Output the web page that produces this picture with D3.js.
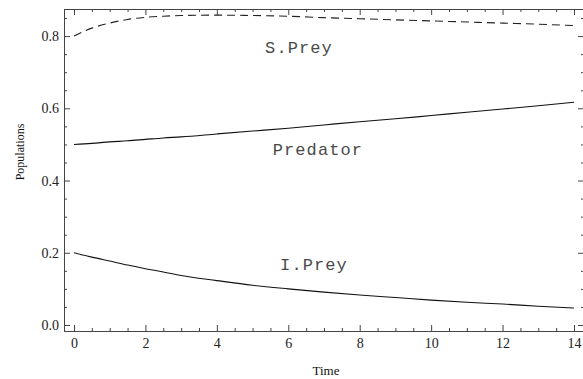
<!DOCTYPE html>
<html>
<head>
<meta charset="utf-8">
<script src="https://cdn.jsdelivr.net/npm/d3@7"></script>
<style>
  html, body { margin: 0; padding: 0; background: #fff; }
  svg { display: block; }
</style>
</head>
<body>
<svg id="chart" width="583" height="379"></svg>
<script>
// Simulation output sampled over time
const time     = [0, 0.5, 1, 1.5, 2, 2.5, 3, 4, 5, 6, 7, 8, 9, 10, 11, 12, 13, 14];
const sPrey    = [0.800, 0.822, 0.836, 0.846, 0.852, 0.855, 0.857, 0.858, 0.857, 0.855, 0.851, 0.848, 0.845, 0.842, 0.839, 0.836, 0.833, 0.829];
const predator = [0.500, 0.503, 0.507, 0.510, 0.514, 0.518, 0.521, 0.529, 0.537, 0.545, 0.554, 0.563, 0.571, 0.580, 0.589, 0.598, 0.607, 0.617];
const iPrey    = [0.200, 0.188, 0.177, 0.166, 0.156, 0.147, 0.137, 0.123, 0.110, 0.100, 0.091, 0.083, 0.076, 0.069, 0.063, 0.058, 0.052, 0.047];

// Tick values
const xMajor = [0, 2, 4, 6, 8, 10, 12, 14];
const yMajor = [0.0, 0.2, 0.4, 0.6, 0.8];

// Curve labels (text, time, population)
const labelText = ["S.Prey", "Predator", "I.Prey"];
const labelTime = [6.30, 6.83, 6.72];
const labelPop  = [0.753, 0.471, 0.152];

const serif = "'Liberation Serif', 'Times New Roman', Times, serif";
const mono = "'Courier New', Courier, 'Nimbus Mono PS', FreeMono, 'Liberation Mono', monospace";

const svg = d3.select("#chart");
const plotLeft = 64, plotRight = 584, plotTop = 9, plotBottom = 331;

const x = d3.scaleLinear().domain([-0.28, 14.28]).range([plotLeft, plotRight]);
const y = d3.scaleLinear().domain([-0.0166, 0.875]).range([plotBottom, plotTop]);

const xMinor = d3.range(0, 14.01, 0.5).filter(v => Math.abs(v / 2 - Math.round(v / 2)) > 1e-6);
const yMinor = d3.range(0, 0.8501, 0.05).filter(v => Math.abs(v / 0.2 - Math.round(v / 0.2)) > 1e-6);

const frameColor = "#444";

function styleAxis(g) {
  g.attr("font-family", serif).attr("font-size", 14);
  g.select(".domain").remove();
  g.selectAll(".tick line").attr("stroke", frameColor).attr("stroke-width", 1);
  g.selectAll(".tick text").attr("fill", "#222");
}

// Minor ticks on all four sides
svg.append("g").attr("transform", `translate(0,${plotBottom})`)
  .call(d3.axisBottom(x).tickValues(xMinor).tickSizeInner(-3).tickSizeOuter(0).tickFormat(""))
  .call(styleAxis);
svg.append("g").attr("transform", `translate(0,${plotTop})`)
  .call(d3.axisTop(x).tickValues(xMinor).tickSizeInner(-3).tickSizeOuter(0).tickFormat(""))
  .call(styleAxis);
svg.append("g").attr("transform", `translate(${plotLeft},0)`)
  .call(d3.axisLeft(y).tickValues(yMinor).tickSizeInner(-3).tickSizeOuter(0).tickFormat(""))
  .call(styleAxis);
svg.append("g").attr("transform", `translate(${plotRight},0)`)
  .call(d3.axisRight(y).tickValues(yMinor).tickSizeInner(-3).tickSizeOuter(0).tickFormat(""))
  .call(styleAxis);

// Major ticks, labelled on bottom and left
svg.append("g").attr("transform", `translate(0,${plotBottom})`)
  .call(d3.axisBottom(x).tickValues(xMajor).tickSizeInner(-6).tickSizeOuter(0).tickPadding(7).tickFormat(d3.format("d")))
  .call(styleAxis);
svg.append("g").attr("transform", `translate(0,${plotTop})`)
  .call(d3.axisTop(x).tickValues(xMajor).tickSizeInner(-6).tickSizeOuter(0).tickFormat(""))
  .call(styleAxis);
svg.append("g").attr("transform", `translate(${plotLeft},0)`)
  .call(d3.axisLeft(y).tickValues(yMajor).tickSizeInner(-6).tickSizeOuter(0).tickPadding(5).tickFormat(d3.format(".1f")))
  .call(styleAxis);
svg.append("g").attr("transform", `translate(${plotRight},0)`)
  .call(d3.axisRight(y).tickValues(yMajor).tickSizeInner(-6).tickSizeOuter(0).tickFormat(""))
  .call(styleAxis);

// Frame
svg.append("rect")
  .attr("x", plotLeft + 0.5).attr("y", plotTop + 0.5)
  .attr("width", plotRight - plotLeft).attr("height", plotBottom - plotTop)
  .attr("fill", "none").attr("stroke", frameColor).attr("stroke-width", 1);

// Population curves
const line = d3.line()
  .x((d, i) => x(time[i]))
  .y(d => y(d))
  .curve(d3.curveMonotoneX);

svg.append("path").datum(sPrey)
  .attr("d", line).attr("fill", "none")
  .attr("stroke", "#222").attr("stroke-width", 1.1)
  .attr("stroke-dasharray", "8,5");

svg.append("path").datum(predator)
  .attr("d", line).attr("fill", "none")
  .attr("stroke", "#111").attr("stroke-width", 1.1);

svg.append("path").datum(iPrey)
  .attr("d", line).attr("fill", "none")
  .attr("stroke", "#111").attr("stroke-width", 1.1);

// Curve labels
svg.selectAll("text.curve-label")
  .data(labelText)
  .join("text")
  .attr("class", "curve-label")
  .attr("x", (d, i) => x(labelTime[i]))
  .attr("y", (d, i) => y(labelPop[i]))
  .attr("text-anchor", "middle")
  .attr("font-family", mono)
  .attr("font-size", 17)
  .attr("letter-spacing", 1.1)
  .attr("fill", "#4a4a4a")
  .text(d => d);

// Axis titles
svg.append("text")
  .attr("x", (plotLeft + 582) / 2 + 3)
  .attr("y", 375)
  .attr("text-anchor", "middle")
  .attr("font-family", serif)
  .attr("font-size", 13)
  .attr("fill", "#111")
  .text("Time");

svg.append("text")
  .attr("transform", `translate(24,${(plotTop + plotBottom) / 2 - 18}) rotate(-90)`)
  .attr("text-anchor", "middle")
  .attr("font-family", serif)
  .attr("font-size", 12)
  .attr("fill", "#111")
  .text("Populations");
</script>
</body>
</html>
